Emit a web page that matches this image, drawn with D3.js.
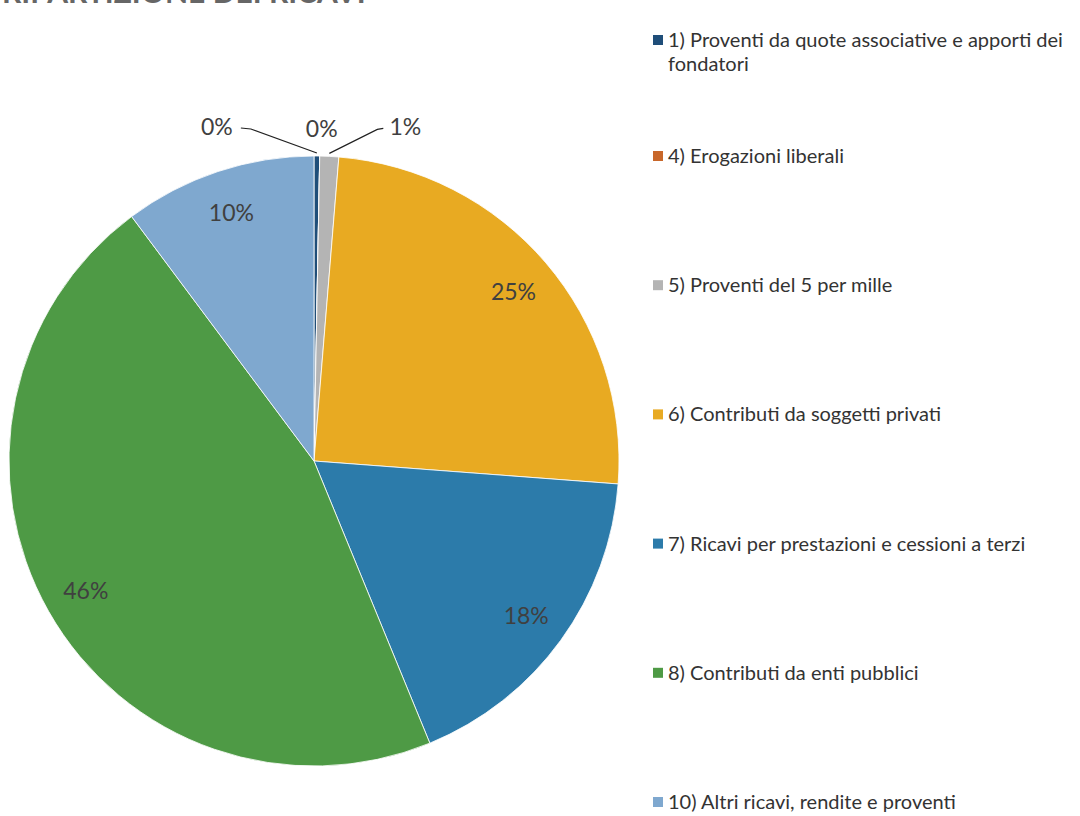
<!DOCTYPE html>
<html>
<head>
<meta charset="utf-8">
<script src="https://cdn.jsdelivr.net/npm/d3@7"></script>
<style>
  body { margin: 0; background: #fff; }
  svg { display: block; }
</style>
</head>
<body>
<svg id="chart" width="1080" height="816"></svg>
<script>
var categories = [
  "1) Proventi da quote associative e apporti dei fondatori",
  "4) Erogazioni liberali",
  "5) Proventi del 5 per mille",
  "6) Contributi da soggetti privati",
  "7) Ricavi per prestazioni e cessioni a terzi",
  "8) Contributi da enti pubblici",
  "10) Altri ricavi, rendite e proventi"
];
var values = [0.3, 0, 1.0, 24.9, 17.6, 46.0, 10.2];
var colors = ["#1f4e79", "#c8672a", "#b4b4b4", "#e8aa22", "#2c7baa", "#4e9a45", "#7fa8cf"];

var svg = d3.select("#chart");
var font = "Lato, 'Open Sans', sans-serif";

// title, cut off by the top edge as in the scan
svg.append("text")
  .attr("x", 2)
  .attr("y", 3)
  .attr("font-family", font)
  .attr("font-weight", "bold")
  .attr("font-size", 30)
  .attr("fill", "#666")
  .text("RIPARTIZIONE DEI RICAVI");

var cx = 314, cy = 461, R = 305;
var total = d3.sum(values);

var pie = d3.pie().sort(null).value(function(d) { return d; });
var arcs = pie(values);
var arc = d3.arc().innerRadius(0).outerRadius(R);
var labelArc = d3.arc().innerRadius(R * 0.86).outerRadius(R * 0.86);

var g = svg.append("g").attr("transform", "translate(" + cx + "," + cy + ")");

g.selectAll("path.slice")
  .data(arcs)
  .enter()
  .append("path")
  .attr("class", "slice")
  .attr("d", arc)
  .attr("fill", function(d, i) { return colors[i]; })
  .attr("stroke", "#fff")
  .attr("stroke-width", 0.8);

function pct(v) { return Math.round(v / total * 100) + "%"; }

// big slices: labels inside
arcs.forEach(function(d, i) {
  if (d.value / total < 0.03) return;
  var p = labelArc.centroid(d);
  g.append("text")
    .attr("x", p[0])
    .attr("y", p[1])
    .attr("text-anchor", "middle")
    .attr("dominant-baseline", "central")
    .attr("font-family", font)
    .attr("font-size", 23)
    .attr("fill", "#404040")
    .text(pct(d.value));
});

// small slices: labels outside with leader lines
var outerArc = d3.arc().innerRadius(R).outerRadius(R);
var offsets = [[-100, -30, "left"], [2, -28, "none"], [76, -30, "right"]];
arcs.forEach(function(d, i) {
  if (d.value / total >= 0.03) return;
  var o = offsets[i];
  var p = outerArc.centroid(d);
  var tx = p[0] + o[0], ty = p[1] + o[1];
  g.append("text")
    .attr("x", tx)
    .attr("y", ty)
    .attr("text-anchor", "middle")
    .attr("dominant-baseline", "central")
    .attr("font-family", font)
    .attr("font-size", 23)
    .attr("fill", "#404040")
    .text(pct(d.value));
  if (o[2] === "none") return;
  var sx = o[2] === "left" ? tx + 24 : tx - 22;
  var ex = o[2] === "left" ? sx + 10 : sx - 6;
  g.append("path")
    .attr("d", d3.line()([[sx, ty + 2], [ex, ty + 3], [p[0], p[1] - 3]]))
    .attr("fill", "none")
    .attr("stroke", "#222")
    .attr("stroke-width", 1.2);
});

// legend
var legend = svg.append("g").attr("font-family", font).attr("font-size", 20).attr("fill", "#333");
categories.forEach(function(c, i) {
  var y = i === 0 ? 40 : 156 + (i - 1) * 129.2;
  legend.append("rect")
    .attr("x", 653).attr("y", y - 5)
    .attr("width", 10).attr("height", 10)
    .attr("fill", colors[i]);
  if (i === 0) {
    legend.append("text").attr("x", 668).attr("y", y).attr("dy", "0.35em")
      .text("1) Proventi da quote associative e apporti dei");
    legend.append("text").attr("x", 668).attr("y", y + 24).attr("dy", "0.35em")
      .text("fondatori");
  } else {
    legend.append("text").attr("x", 668).attr("y", y).attr("dy", "0.35em").text(c);
  }
});
</script>
</body>
</html>
